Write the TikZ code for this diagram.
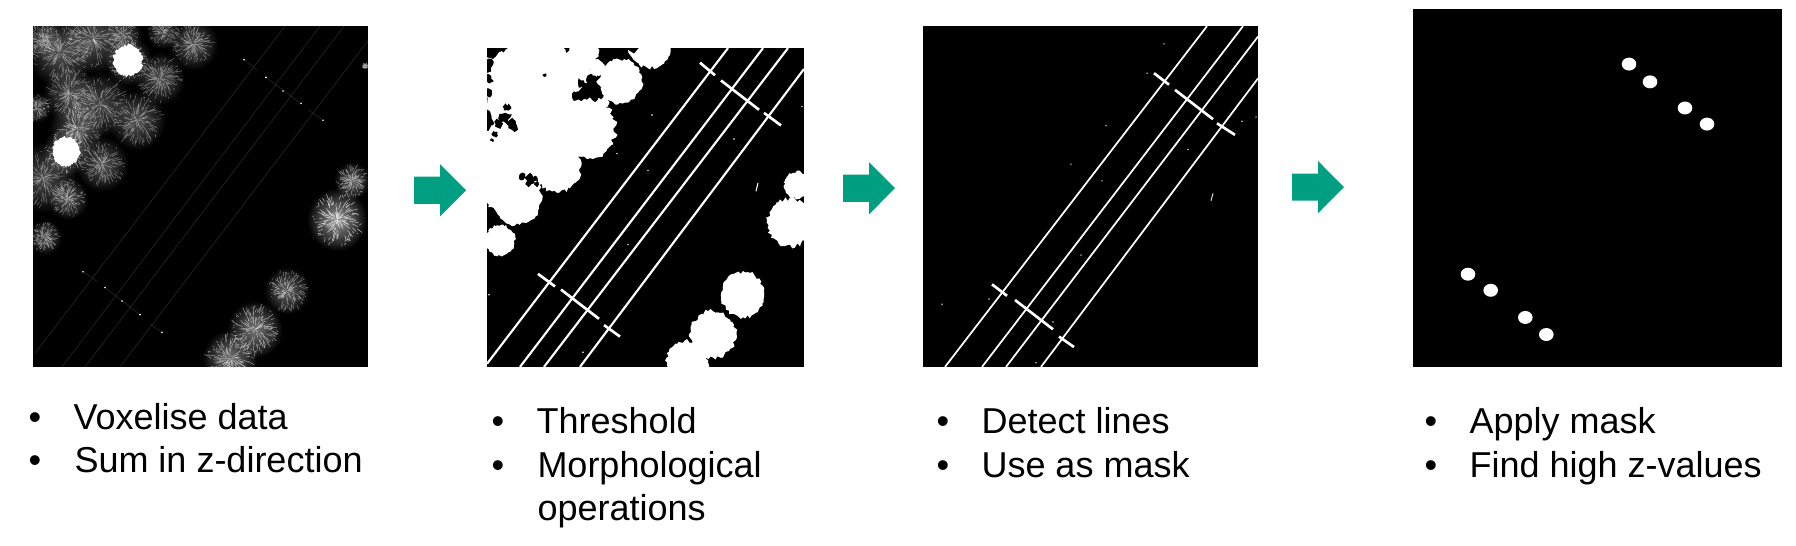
\documentclass[tikz,border=0pt]{standalone}
\usepackage{fontspec}
\usetikzlibrary{fadings}
\setmainfont{Liberation Sans}

\definecolor{arrowgreen}{HTML}{009F81}
\tikzfading[name=crownglow,inner color=transparent!15,outer color=transparent!100]

\tikzset{every picture/.style={line width=0.75pt}}

% bumpy crown outline, used for the thresholded trees
\newcommand{\lobe}[4]{\fill[#1,shift={(#2,#3)}] plot[domain=0:354,samples=60] (\x:{#4*(.9+.18*rnd)}) -- cycle;}
% same, rougher, for the holes between them
\newcommand{\gap}[3]{\fill[black,shift={(#1,#2)}] plot[domain=0:340,samples=11] (\x:{#3*(.45+.8*rnd)}) -- cycle;}
% crown: soft glow with thin streaks on it
\newcommand{\treetop}[4]{
    \fill[white,opacity=#4*.8,path fading=crownglow,shift={(#1,#2)}] (0,0) circle (#3*1.2);
    \foreach \a in {0,3,...,357} {
        \pgfmathsetmacro{\ra}{#3*rnd}
        \pgfmathsetmacro{\rb}{min(\ra+#3*(.1+.3*rnd),#3*(.82+.32*rnd))}
        \draw[white,line width=0.4pt,opacity=#4*.75,shift={(#1,#2)}] (\a:\ra) -- ({\a+5*rnd}:\rb);
    }}

\begin{document}
\begin{tikzpicture}[
            x=0.75pt,
            y=0.784pt,
            yscale=-1,
            xscale=1,
            panel/.style={fill=black},
            faintline/.style={draw=black!83,line width=0.4pt},
            wire/.style={draw=white,line width=1.6pt},
            thinwire/.style={draw=white,line width=1.3pt},
            arm/.style={draw=white,line width=2pt},
            listtext/.style={anchor=base west,inner sep=0pt,font=\fontsize{27}{32}\selectfont},
            listdot/.style={anchor=base,inner sep=0pt,font=\fontsize{27}{32}\selectfont},
            line width=0.75pt
        ]
            \useasboundingbox (0,0) rectangle (1796,521.5);
            \pgfmathsetseed{7}

            % first panel
            \fill [panel] (33,25) rectangle (368,351);
            \begin{scope}
            \clip (33,25) rectangle (368,351);
            \foreach \tx/\ty/\tr/\tb in {193/42/21/.5,160/75/21/.5,70/90/23/.5,100/100/26/.45,137/115/24/.5,77/123/23/.55,102/157/22/.5,43/170/28/.45,68/190/17/.5,45/227/14/.5,60/50/28/.5,93/37/28/.5,43/37/16/.45,123/33/16/.45,163/30/14/.45,37/103/12/.45,128/58/20/.6,66/145/20/.6,352/173/15/.6,337/210/25/.9,287/278/19/.6,255/315/23/.7,230/343/23/.7,365/63/3/.4}
                {\treetop{\tx}{\ty}{\tr}{\tb}}
            \lobe{white}{128}{58}{15}
            \lobe{white}{66}{145}{14}
            \end{scope}
            \draw [faintline] (35,338) -- (285,25) (62,351) -- (320,25) (85,351) -- (344,25) (120,351) -- (368,39);
            \draw [faintline] (244,57) -- (257,67) (266,74) -- (301,99) (308,105) -- (323,115);
            \draw [faintline] (83,260) -- (97,269) (105,275) -- (140,301) (150,310) -- (162,318);
            \foreach \dx/\dy in {244/57,266/74,283/87,301/99,323/115,83/260,105/275,122/288,140/301,162/318}
                \fill [white] (\dx,\dy) circle (0.9);

            % second panel
            \fill [panel] (487,46) rectangle (804,351);
            \begin{scope}
            \clip (487,46) rectangle (804,351);
            \foreach \bx/\by/\br in {620/78/22,650/44/21,587/123/29,557/160/24,517/190/25,500/230/15,530/85/46,500/70/20,560/60/32,578/50/20,597/65/8,603/98/6,530/130/40,495/155/33,505/180/24,797/177/13,790/213/23,743/282/22,713/320/23,687/347/21}
                {\lobe{white}{\bx}{\by}{\br}}
            \foreach \bx/\by/\br in {490/50/10,488/62/7,488/75/6,488/88/5,587/84/7,594/86/7,581/80/5,600/92/3,615/44/11,630/42/9,505/112/7,512/120/6,498/118/5,495/128/3,492/134/2,507/103/4,530/172/6,522/168/4,537/176/3,489/210/3,545/72/2,567/47/3}
                {\gap{\bx}{\by}{\br}}
            \end{scope}
            \draw [wire] (487,348) -- (728,46) (520,351) -- (763,46) (544,351) -- (788,46) (580,351) -- (804,66);
            \draw [arm] (700,60) -- (715,72) (721,77) -- (759,105) (764,108) -- (781,120);
            \draw [arm] (538,262) -- (555,274) (561,277) -- (599,305) (604,311) -- (620,322);
            \foreach \dx/\dy in {652/110,617/147,648/163,734/133,628/234,489/282,802/102,583/337}
                \fill [white] (\dx,\dy) circle (0.8);
            \draw [white,line width=0.8pt] (758,175) -- (756,183);

            % third panel
            \fill [panel] (923,25) rectangle (1258,351);
            \draw [thinwire] (945,351) -- (1207,25) (982,351) -- (1243,25) (1006,351) -- (1258,35) (1041,351) -- (1258,75);
            \draw [arm] (1154,70) -- (1169,81) (1175,86) -- (1213,114) (1217,118) -- (1235,129);
            \draw [arm] (992,272) -- (1007,283) (1015,287) -- (1053,315) (1059,322) -- (1074,332);
            \foreach \dx/\dy in {1164/42,1147/70,1106/120,1071/157,1102/173,1188/143,1242/116,1256/112,1081/244,1053/308,942/291,989/286,1036/347}
                \fill [white!80!black] (\dx,\dy) circle (0.8);
            \draw [white!80!black,line width=0.8pt] (1213,185) -- (1211,192);

            % fourth panel
            \fill [panel] (1413,9) rectangle (1782,351);
            \foreach \sx/\sy in {1629/61.3,1650/78.3,1685/103.3,1707/118.7,1468/262.3,1490.7/277.7,1525.3/303.7,1546.3/320}
                \fill [white] (\sx,\sy) ellipse (7.3 and 6.2);

            % arrows
            \foreach \ax/\ay in {414/182,843/180,1292/179}
                \fill [arrowgreen,shift={(\ax,\ay)}] (0,-13) -- (26,-13) -- (26,-25) -- (52,0) -- (26,25) -- (26,13) -- (0,13) -- cycle;

            % lists
            \foreach \lx/\ly/\lname/\ltext in {73/411/voxel/Voxelise data,74/452/sumz/Sum in z-direction,536/415/thresh/Threshold,537/457/morph/Morphological,537/498/oper/operations,981/415/detect/Detect lines,981/457/usemask/Use as mask,1469/415/apply/Apply mask,1469/457/findz/Find high z-values}
                \draw (\lx,\ly) node [listtext] (\lname) {\ltext};
            \foreach \lx/\ly/\lname in {35/411/dota,35/452/dotb,498/415/dotc,498/457/dotd,943/415/dote,943/457/dotf,1431/415/dotg,1431/457/doth}
                \draw (\lx,\ly) node [listdot] (\lname) {•};
\end{tikzpicture}
\end{document}
